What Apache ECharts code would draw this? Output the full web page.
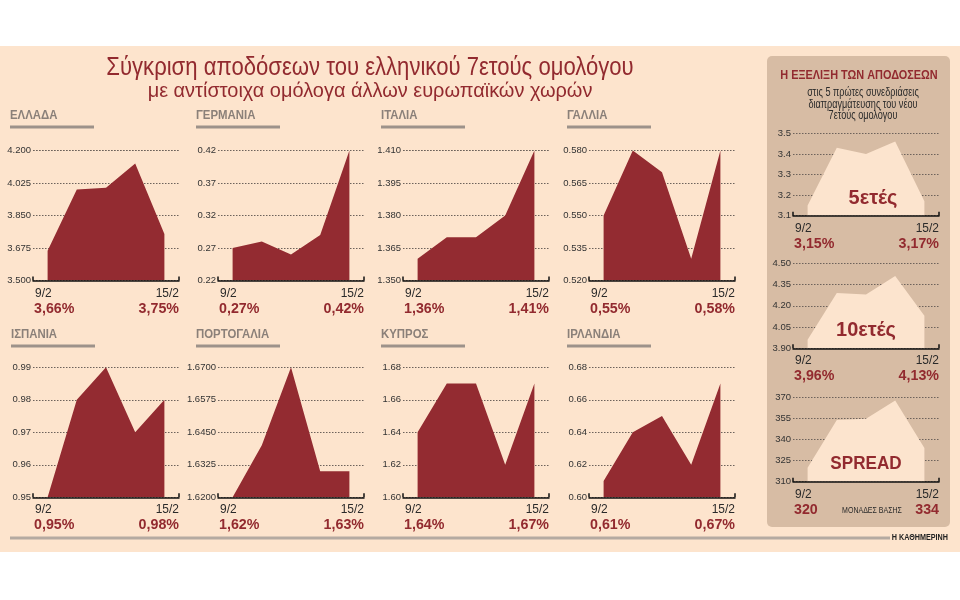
<!DOCTYPE html>
<html>
<head>
<meta charset="utf-8">
<script src="https://cdn.jsdelivr.net/npm/echarts@6/dist/echarts.min.js"></script>
<style>
    html, body { margin: 0; padding: 0; background: #fff; }
    #bonds_chart { width: 960px; height: 600px; }
</style>
</head>
<body>
<div id="bonds_chart"></div>
<script>
// Data
// ------------------------------

var days = ['9/2', '10/2', '11/2', '12/2', '15/2'];

var greece = [3.66, 3.99, 4.00, 4.13, 3.75];
var germany = [0.27, 0.28, 0.26, 0.29, 0.42];
var italy = [1.36, 1.37, 1.37, 1.38, 1.41];
var france = [0.55, 0.58, 0.57, 0.53, 0.58];
var spain = [0.95, 0.98, 0.99, 0.97, 0.98];
var portugal = [1.62, 1.64, 1.67, 1.63, 1.63];
var cyprus = [1.64, 1.67, 1.67, 1.62, 1.67];
var ireland = [0.61, 0.64, 0.65, 0.62, 0.67];
var greek5y = [3.15, 3.43, 3.40, 3.46, 3.17];
var greek10y = [3.96, 4.29, 4.28, 4.41, 4.13];
var spread = [320, 354, 355, 368, 334];

var greeceTicks = ['3.500', '3.675', '3.850', '4.025', '4.200'];
var germanyTicks = ['0.22', '0.27', '0.32', '0.37', '0.42'];
var italyTicks = ['1.350', '1.365', '1.380', '1.395', '1.410'];
var franceTicks = ['0.520', '0.535', '0.550', '0.565', '0.580'];
var spainTicks = ['0.95', '0.96', '0.97', '0.98', '0.99'];
var portugalTicks = ['1.6200', '1.6325', '1.6450', '1.6575', '1.6700'];
var cyprusTicks = ['1.60', '1.62', '1.64', '1.66', '1.68'];
var irelandTicks = ['0.60', '0.62', '0.64', '0.66', '0.68'];
var greek5yTicks = ['3.1', '3.2', '3.3', '3.4', '3.5'];
var greek10yTicks = ['3.90', '4.05', '4.20', '4.35', '4.50'];
var spreadTicks = ['310', '325', '340', '355', '370'];


// Setup module
// ------------------------------

var BondYields = function() {

    var DARK_RED = '#922a2f';
    var PEACH = '#fde4cd';
    var FONT = '"Liberation Sans", Arial, sans-serif';

    // Panel layout
    var countries = [
        { title: 'ΕΛΛΑΔΑ', values: greece, ticks: greeceTicks, x: 33, y: 150.5, tx: 10, ty: 116 },
        { title: 'ΓΕΡΜΑΝΙΑ', values: germany, ticks: germanyTicks, x: 218, y: 150.5, tx: 196, ty: 116 },
        { title: 'ΙΤΑΛΙΑ', values: italy, ticks: italyTicks, x: 403, y: 150.5, tx: 381, ty: 116 },
        { title: 'ΓΑΛΛΙΑ', values: france, ticks: franceTicks, x: 589, y: 150.5, tx: 567, ty: 116 },
        { title: 'ΙΣΠΑΝΙΑ', values: spain, ticks: spainTicks, x: 33, y: 367.3, tx: 11, ty: 335 },
        { title: 'ΠΟΡΤΟΓΑΛΙΑ', values: portugal, ticks: portugalTicks, x: 218, y: 367.3, tx: 196, ty: 335 },
        { title: 'ΚΥΠΡΟΣ', values: cyprus, ticks: cyprusTicks, x: 403, y: 367.3, tx: 381, ty: 335 },
        { title: 'ΙΡΛΑΝΔΙΑ', values: ireland, ticks: irelandTicks, x: 589, y: 367.3, tx: 567, ty: 335 }
    ];

    var greekBonds = [
        { label: '5ετές', values: greek5y, ticks: greek5yTicks, x: 793, y: 133.3, h: 82.4, lx: 873, ly: 198, size: 21, pct: true },
        { label: '10ετές', values: greek10y, ticks: greek10yTicks, x: 793, y: 263.3, h: 85, lx: 866, ly: 330, size: 21, pct: true },
        { label: 'SPREAD', values: spread, ticks: spreadTicks, x: 793, y: 397.7, h: 84, lx: 866, ly: 464, size: 18, pct: false }
    ];

    var fmtValue = function(v, pct) {
        return pct ? v.toFixed(2).replace('.', ',') + '%' : String(v);
    };

    // Text element, optionally squeezed horizontally
    var label = function(text, x, y, font, fill, align, sx) {
        return {
            type: 'text', z: 100, x: x, y: y, scaleX: sx || 1,
            style: { text: text, x: 0, y: 0, align: align || 'left', verticalAlign: 'middle', font: font, fill: fill }
        };
    };

    var _bondsChart = function() {
        if (typeof echarts == 'undefined') {
            console.warn('Warning - echarts.min.js is not loaded.');
            return;
        }

        var element = document.getElementById('bonds_chart');
        if (!element) return;

        var chart = echarts.init(element, null, { renderer: 'canvas' });

        var grid = [], xAxis = [], yAxis = [], series = [];

        // Static decoration
        var graphic = [
            { type: 'rect', z: -10, shape: { x: 0, y: 46, width: 960, height: 506 }, style: { fill: PEACH } },
            { type: 'rect', z: -9, shape: { x: 767, y: 56, width: 183, height: 471, r: 5 }, style: { fill: '#d7bca4' } },
            { type: 'rect', z: -9, shape: { x: 10, y: 536.5, width: 880, height: 3 }, style: { fill: '#b5aaa1' } },
            label('Η ΚΑΘΗΜΕΡΙΝΗ', 948, 538, 'bold 9px ' + FONT, '#222', 'right', 0.8),
            label('Σύγκριση αποδόσεων του ελληνικού 7ετούς ομολόγου', 370, 68, '26px ' + FONT, DARK_RED, 'center', 0.85),
            label('με αντίστοιχα ομόλογα άλλων ευρωπαϊκών χωρών', 370, 91, '21px ' + FONT, DARK_RED, 'center', 0.95),
            label('Η ΕΞΕΛΙΞΗ ΤΩΝ ΑΠΟΔΟΣΕΩΝ', 859, 75, 'bold 13px ' + FONT, DARK_RED, 'center', 0.84),
            label('στις 5 πρώτες συνεδριάσεις', 863, 92.5, '13px ' + FONT, '#2a2a2a', 'center', 0.7),
            label('διαπραγμάτευσης του νέου', 863, 104, '13px ' + FONT, '#2a2a2a', 'center', 0.7),
            label('7ετούς ομολόγου', 863, 115.5, '13px ' + FONT, '#2a2a2a', 'center', 0.7)
        ];

        var addPanel = function(p, fill) {
            var i = grid.length;
            var h = p.h || 130;
            var min = parseFloat(p.ticks[0]);
            var max = parseFloat(p.ticks[p.ticks.length - 1]);
            var step = (max - min) / (p.ticks.length - 1);
            var ticks = p.ticks;

            grid.push({ left: p.x, top: p.y, width: 146, height: h });

            // Plain base line with short end ticks
            xAxis.push({
                type: 'value', gridIndex: i, min: 0, max: 1, interval: 1, z: 5, position: 'bottom',
                axisLine: { show: true, lineStyle: { color: '#111', width: 1.5 } },
                axisTick: { show: true, inside: true, length: 4, lineStyle: { color: '#111', width: 1.5 } },
                axisLabel: { show: false },
                splitLine: { show: false }
            });

            // Category axis for the data
            xAxis.push({
                type: 'category', gridIndex: i, data: days, boundaryGap: true, position: 'bottom', show: false
            });

            yAxis.push({
                type: 'value', gridIndex: i, min: min, max: max, interval: step,
                axisLine: { show: false },
                axisTick: { show: false },
                axisLabel: {
                    margin: 2, fontSize: 9.5, color: '#333', fontFamily: FONT,
                    formatter: function(v) { return ticks[Math.round((v - min) / step)]; }
                },
                splitLine: { lineStyle: { color: '#6d625b', type: [1.5, 1.5], width: 1 } }
            });

            series.push({
                type: 'line', xAxisIndex: 2 * i + 1, yAxisIndex: i, data: p.values,
                symbol: 'none', silent: true, z: 2,
                lineStyle: { width: 0 },
                areaStyle: { color: fill, opacity: 1, origin: 'start' }
            });

            // Date and value labels under the axis
            var bottom = p.y + h;
            var pct = p.pct !== false;
            graphic.push(
                label(days[0], p.x + 2, bottom + 12.5, '13px ' + FONT, '#2a2a2a', 'left', 0.92),
                label(days[days.length - 1], p.x + 146, bottom + 12.5, '13px ' + FONT, '#2a2a2a', 'right', 0.92),
                label(fmtValue(p.values[0], pct), p.x + 1, bottom + 28, 'bold 15px ' + FONT, DARK_RED, 'left', 0.95),
                label(fmtValue(p.values[p.values.length - 1], pct), p.x + 146, bottom + 28, 'bold 15px ' + FONT, DARK_RED, 'right', 0.95)
            );
        };

        countries.forEach(function(p) {
            addPanel(p, '#932b31');
            graphic.push(
                label(p.title, p.tx, p.ty, 'bold 12px ' + FONT, '#8b8079', 'left', 0.95),
                { type: 'rect', z: 100, shape: { x: p.tx, y: p.ty + 9.5, width: 84, height: 3 }, style: { fill: '#9d928a' } }
            );
        });

        greekBonds.forEach(function(p) {
            addPanel(p, '#fce4ce');
            graphic.push(label(p.label, p.lx, p.ly, 'bold ' + p.size + 'px ' + FONT, DARK_RED, 'center', 0.95));
        });

        graphic.push(label('ΜΟΝΑΔΕΣ ΒΑΣΗΣ', 872, 511, '9px ' + FONT, '#2a2a2a', 'center', 0.78));

        chart.setOption({
            animation: false,
            textStyle: { fontFamily: FONT },
            grid: grid,
            xAxis: xAxis,
            yAxis: yAxis,
            series: series,
            graphic: graphic
        });
    };

    return {
        init: function() {
            _bondsChart();
        }
    };
}();


// Initialize module
// ------------------------------

document.addEventListener('DOMContentLoaded', function() {
    BondYields.init();
});
</script>
</body>
</html>
